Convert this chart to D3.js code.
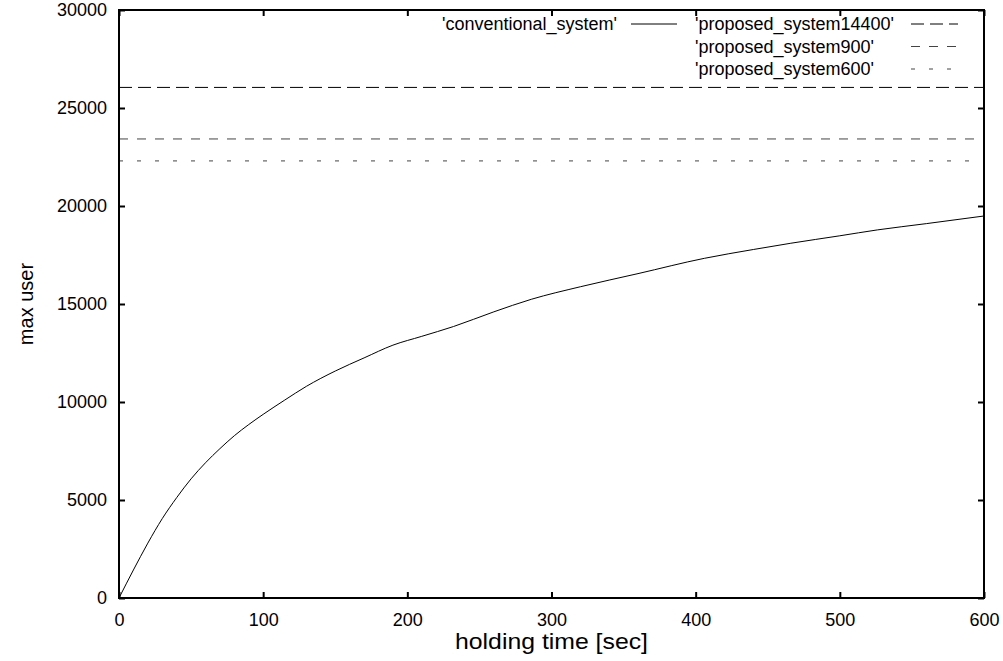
<!DOCTYPE html>
<html>
<head>
<meta charset="utf-8">
<script src="https://cdn.jsdelivr.net/npm/d3@7"></script>
<style>
    body { margin: 0; background: #fff; }
    text { font-family: "Liberation Sans", Arial, sans-serif; fill: #000; }
</style>
</head>
<body>
<div id="chart"></div>
<script>

// holding time [sec] and max user of the conventional system.
var holdingTime = [0, 10, 20, 30, 40, 50, 60, 70, 80, 90, 100, 115, 130, 150, 170, 190, 210, 232, 260, 286, 320, 360, 406, 440, 466, 500, 526, 560, 600];
var maxUser = [0, 1430, 2800, 4050, 5120, 6080, 6900, 7620, 8280, 8850, 9370, 10100, 10800, 11580, 12250, 12900, 13350, 13850, 14600, 15240, 15880, 16550, 17330, 17780, 18100, 18480, 18780, 19100, 19490];

// proposed systems are flat lines.
var proposedNames = ["'proposed_system14400'", "'proposed_system900'", "'proposed_system600'"];
var proposedValues = [26050, 23420, 22300];

var xTicks = [0, 100, 200, 300, 400, 500, 600];
var yTicks = [0, 5000, 10000, 15000, 20000, 25000, 30000];

var width = 1003, height = 661;
var plotLeft = 119, plotRight = 984, plotTop = 10, plotBottom = 598;

var svg = d3.select("#chart")
    .append("svg")
    .attr("width", width)
    .attr("height", height);

var x = d3.scaleLinear().domain([0, 600]).range([plotLeft, plotRight]);
var y = d3.scaleLinear().domain([0, 30000]).range([plotBottom, plotTop]);

// axes with inward ticks, gnuplot style.
svg.append("g")
    .attr("transform", "translate(0," + plotBottom + ")")
    .call(d3.axisBottom(x).tickValues(xTicks).tickSize(-6).tickPadding(15));
svg.append("g")
    .attr("transform", "translate(0," + plotTop + ")")
    .call(d3.axisTop(x).tickValues(xTicks).tickSize(-6).tickFormat(""));
svg.append("g")
    .attr("transform", "translate(" + plotLeft + ",0)")
    .call(d3.axisLeft(y).tickValues(yTicks).tickSize(-6).tickPadding(12).tickFormat(d3.format("d")));
svg.append("g")
    .attr("transform", "translate(" + plotRight + ",0)")
    .call(d3.axisRight(y).tickValues(yTicks).tickSize(-6).tickFormat(""));

svg.selectAll(".domain").remove();
svg.selectAll(".tick line").attr("stroke", "#000").attr("stroke-width", 2);
svg.selectAll(".tick text").style("font-size", "18px");

// the proposed systems.
var dashes = ["13,6", "9,9", "4,14"];
var dashColors = ["#000", "#444", "#444"];
proposedValues.forEach(function (v, i) {
    svg.append("line")
        .attr("x1", x(0)).attr("x2", x(600))
        .attr("y1", y(v)).attr("y2", y(v))
        .attr("stroke", dashColors[i])
        .attr("stroke-width", 1)
        .attr("stroke-dasharray", dashes[i]);
});

// the conventional system.
var points = holdingTime.map(function (t, i) { return [t, maxUser[i]]; });
var line = d3.line()
    .x(function (d) { return x(d[0]); })
    .y(function (d) { return y(d[1]); })
    .curve(d3.curveMonotoneX);
svg.append("path")
    .datum(points)
    .attr("d", line)
    .attr("fill", "none")
    .attr("stroke", "#000")
    .attr("stroke-width", 1);

// frame.
svg.append("rect")
    .attr("x", plotLeft).attr("y", plotTop)
    .attr("width", plotRight - plotLeft).attr("height", plotBottom - plotTop)
    .attr("fill", "none")
    .attr("stroke", "#000")
    .attr("stroke-width", 2);

// legend.
var rowY = [24, 46.5, 69];
svg.append("text")
    .attr("x", 617).attr("y", rowY[0]).attr("dy", "0.35em")
    .attr("text-anchor", "end")
    .style("font-size", "18px")
    .text("'conventional_system'");
svg.append("line")
    .attr("x1", 631).attr("x2", 677)
    .attr("y1", rowY[0]).attr("y2", rowY[0])
    .attr("stroke", "#000").attr("stroke-width", 1);
proposedNames.forEach(function (n, i) {
    svg.append("text")
        .attr("x", 695).attr("y", rowY[i]).attr("dy", "0.35em")
        .style("font-size", "18px")
        .text(n);
    svg.append("line")
        .attr("x1", 911).attr("x2", 958)
        .attr("y1", rowY[i]).attr("y2", rowY[i])
        .attr("stroke", dashColors[i]).attr("stroke-width", 1)
        .attr("stroke-dasharray", dashes[i]);
});

// axis titles.
svg.append("text")
    .attr("x", (plotLeft + plotRight) / 2).attr("y", 649)
    .attr("text-anchor", "middle")
    .attr("textLength", 193)
    .attr("lengthAdjust", "spacingAndGlyphs")
    .style("font-size", "22px")
    .text("holding time [sec]");
svg.append("text")
    .attr("transform", "translate(33," + (plotTop + plotBottom) / 2 + ") rotate(-90)")
    .attr("text-anchor", "middle")
    .style("font-size", "20px")
    .text("max user");
</script>
</body>
</html>
